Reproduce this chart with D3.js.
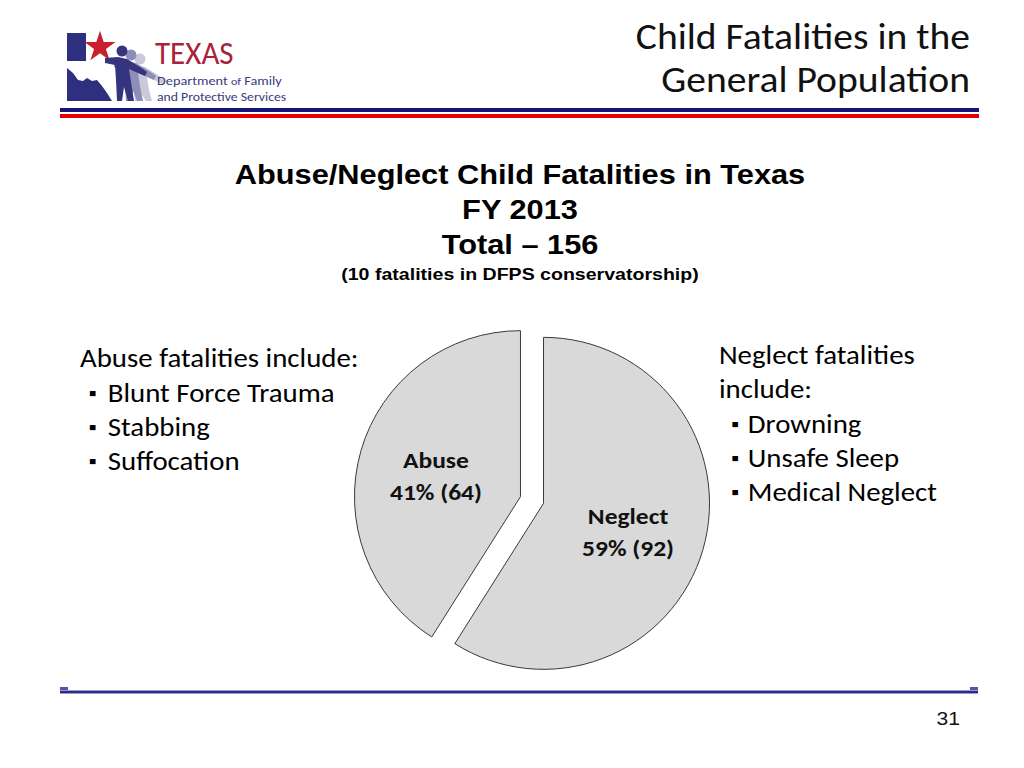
<!DOCTYPE html>
<html>
<head>
<meta charset="utf-8">
<script src="https://cdn.jsdelivr.net/npm/d3@7"></script>
<style>
  body { margin: 0; background: #fff; }
  svg { display: block; }
  .cal { font-family: Carlito, Calibri, Lato, "Noto Sans", sans-serif; }
  .ari { font-family: "Liberation Sans", Arial, sans-serif; }
</style>
</head>
<body>
<div class="slide"></div>
<script>
// Datos de la diapositiva
const categories = ['Abuse', 'Neglect'];
const counts = [64, 92];
const percentLabels = ['41%', '59%'];
const titleLines = ['Abuse/Neglect Child Fatalities in Texas', 'FY 2013', 'Total \u2013 156'];
const subtitle = '(10 fatalities in DFPS conservatorship)';
const headerLines = ['Child Fatalities in the', 'General Population'];
const abuseList = ['Blunt Force Trauma', 'Stabbing', 'Suffocation'];
const neglectList = ['Drowning', 'Unsafe Sleep', 'Medical Neglect'];
const pageNumber = '31';

const WIDTH = 1024;
const HEIGHT = 768;
const RADIUS = 166;
const EXPLODE = 12;
const CENTER = { X: 532, Y: 500 };
const SX = 1.11; // el texto de la diapositiva viene algo estirado a lo ancho

const svg = d3.select('.slide').append('svg')
  .attr('width', WIDTH)
  .attr('height', HEIGHT);

const stretched = (x, y, sx) => `translate(${x}, ${y}) scale(${sx || SX}, 1)`;

// Logo (aproximado)
const logo = svg.append('g').attr('id', 'logo');
const navy = '#2e2f7f';
logo.append('rect').attr('x', 67).attr('y', 33).attr('width', 19).attr('height', 28).attr('fill', navy);
logo.append('path')
  .attr('d', 'M67,68 L73,73 L78,80 L83,81 L87,78 L92,81 L97,80 L102,86 L107,93 L112,101 L67,101 Z')
  .attr('fill', navy);
const star = d3.symbol().type(d3.symbolStar).size(300);
logo.append('path').attr('d', star()).attr('transform', 'translate(100,47)').attr('fill', '#c8202f');

const figure = [[105, 58], [118, 57], [127, 59], [143, 69], [147, 72], [145, 76], [129, 69], [131, 82],
  [134, 101], [128, 101], [124, 87], [122, 101], [117, 101], [116, 80], [115, 65], [105, 63]];
const people = [
  { dx: 18, dy: 8, c: '#c9c9d9' },
  { dx: 9, dy: 4, c: '#8e8eb8' },
  { dx: 0, dy: 0, c: '#34347f' }
];
people.forEach(p => {
  const pts = figure.map(([x, y]) => [x + p.dx, Math.min(101, y + p.dy)]);
  logo.append('path').attr('d', d3.line()(pts) + 'Z').attr('fill', p.c);
  logo.append('circle').attr('cx', 122 + p.dx).attr('cy', 51 + p.dy).attr('r', 5.5).attr('fill', p.c);
});
logo.append('text').attr('class', 'cal')
  .attr('transform', stretched(155, 64, 0.97))
  .attr('font-size', 32).attr('fill', '#a8233a').text('TEXAS');
logo.append('text').attr('class', 'cal')
  .attr('transform', stretched(157, 85, 1.1))
  .attr('font-size', 13).attr('fill', '#3a3a80')
  .html('Department <tspan font-size="11">of</tspan> Family');
logo.append('text').attr('class', 'cal')
  .attr('transform', stretched(157, 101, 1.1))
  .attr('font-size', 12.5).attr('fill', '#3a3a80').text('and Protective Services');

// Encabezado
svg.append('g').attr('transform', stretched(970, 0, 1.1))
  .append('text').attr('class', 'cal')
  .attr('text-anchor', 'end')
  .attr('font-size', 36)
  .attr('fill', '#111')
  .selectAll('tspan').data(headerLines).join('tspan')
    .attr('x', 0)
    .attr('y', (d, i) => 49 + i * 43)
    .text(d => d);

svg.append('rect').attr('x', 60).attr('y', 108).attr('width', 919).attr('height', 4).attr('fill', '#15157a');
svg.append('rect').attr('x', 60).attr('y', 114).attr('width', 919).attr('height', 4).attr('fill', '#e00000');

// Título del gráfico
svg.append('g').attr('transform', stretched(520, 0, 1.14))
  .selectAll('text').data(titleLines).join('text')
  .attr('class', 'ari')
  .attr('x', 0)
  .attr('y', (d, i) => 184 + i * 35)
  .attr('text-anchor', 'middle')
  .attr('font-size', 27)
  .attr('font-weight', 'bold')
  .attr('fill', '#000')
  .text(d => d);
svg.append('text').attr('class', 'ari')
  .attr('transform', stretched(520, 280, 1.2))
  .attr('text-anchor', 'middle')
  .attr('font-size', 16.3).attr('font-weight', 'bold')
  .text(subtitle);

// Textos laterales
const leftText = svg.append('g').attr('transform', stretched(80, 0))
  .attr('class', 'cal').attr('font-size', 26).attr('fill', '#000');
leftText.append('text').attr('x', 0).attr('y', 367).text('Abuse fatalities include:');
leftText.selectAll('.item').data(abuseList).join('text')
  .attr('class', 'item')
  .attr('y', (d, i) => 402 + i * 34)
  .html(d => `<tspan x="8" font-size="20" dy="-2">\u25AA</tspan><tspan x="25" dy="2">${d}</tspan>`);

const rightText = svg.append('g').attr('transform', stretched(719, 0))
  .attr('class', 'cal').attr('font-size', 26).attr('fill', '#000');
rightText.append('text').attr('x', 0).attr('y', 364).text('Neglect fatalities');
rightText.append('text').attr('x', 0).attr('y', 398).text('include:');
rightText.selectAll('.item').data(neglectList).join('text')
  .attr('class', 'item')
  .attr('y', (d, i) => 433 + i * 34)
  .html(d => `<tspan x="11" font-size="20" dy="-2">\u25AA</tspan><tspan x="26" dy="2">${d}</tspan>`);

// Pastel
const total = d3.sum(counts);
const pie = d3.pie().sort(null)
  .startAngle(2 * Math.PI * counts[1] / total)
  .endAngle(2 * Math.PI * counts[1] / total + 2 * Math.PI);
const arc = d3.arc().innerRadius(0).outerRadius(RADIUS);
const labelArc = d3.arc().innerRadius(88).outerRadius(88);

const slices = pie(counts).map((s, i) => Object.assign(s, { name: categories[i], pct: percentLabels[i] }));

const pieG = svg.append('g').attr('transform', `translate(${CENTER.X}, ${CENTER.Y})`);

const sliceG = pieG.selectAll('.slice').data(slices).join('g')
  .attr('class', 'slice')
  .attr('transform', d => {
    const a = (d.startAngle + d.endAngle) / 2;
    return `translate(${EXPLODE * Math.sin(a)}, ${-EXPLODE * Math.cos(a)})`;
  });

sliceG.append('path')
  .attr('d', arc)
  .attr('fill', '#d9d9d9')
  .attr('stroke', '#3a3a3a')
  .attr('stroke-width', 1);

const labels = sliceG.append('text')
  .attr('class', 'cal')
  .attr('text-anchor', 'middle')
  .attr('font-size', 23)
  .attr('font-weight', 'bold')
  .attr('fill', '#111')
  .attr('transform', d => {
    const [cx, cy] = labelArc.centroid(d);
    return stretched(cx, cy);
  });
labels.append('tspan').attr('x', 0).attr('y', -4).text(d => d.name);
labels.append('tspan').attr('x', 0).attr('y', 28).text(d => `${d.pct} (${d.data})`);

// Línea inferior
svg.append('rect').attr('x', 60).attr('y', 690).attr('width', 918).attr('height', 4).attr('fill', '#9b9bd0');
svg.append('rect').attr('x', 60).attr('y', 691).attr('width', 918).attr('height', 2).attr('fill', '#2b2b85');
svg.append('rect').attr('x', 60).attr('y', 687).attr('width', 8).attr('height', 3).attr('fill', '#5555a8');
svg.append('rect').attr('x', 970).attr('y', 687).attr('width', 8).attr('height', 3).attr('fill', '#5555a8');

svg.append('text').attr('class', 'ari')
  .attr('transform', stretched(960, 725))
  .attr('text-anchor', 'end')
  .attr('font-size', 19)
  .attr('fill', '#111')
  .text(pageNumber);
</script>
</body>
</html>
